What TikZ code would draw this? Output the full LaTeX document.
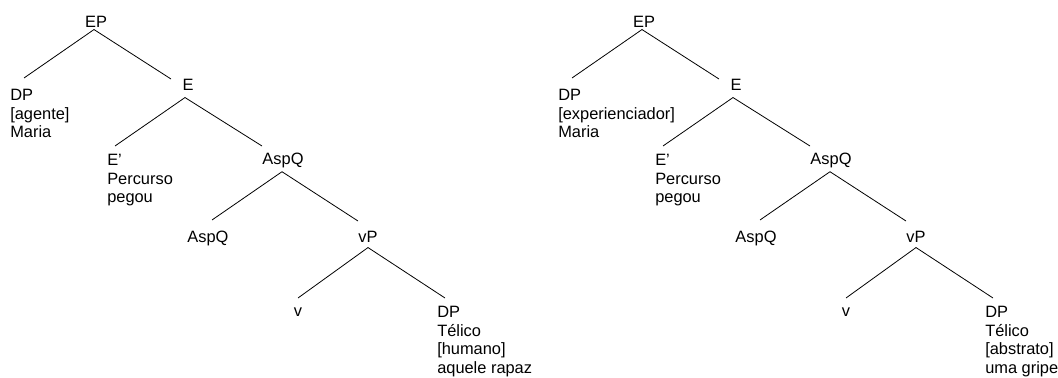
\documentclass[tikz,border=0pt]{standalone}
\usepackage{fontspec}
\setmainfont{Liberation Sans}
\tikzset{
  rotulo/.style={inner sep=0pt,font=\fontsize{12.3}{13.9}\selectfont},
  ramo/.style={line width=0.6pt}
}
\begin{document}
\begin{tikzpicture}[x=0.75pt,y=-0.75pt]
\useasboundingbox (0,0) rectangle (1058,378);
% as duas arvores: a segunda e a primeira deslocada 548px
\foreach \tr/\dx/\papel/\traco/\objeto in {l/0/agente/humano/aquele rapaz,r/548/experienciador/abstrato/uma gripe}{
\begin{scope}[shift={(\dx,0)}]
\node[rotulo,anchor=north] (\tr-EP) at (96,16) {EP};
\node[rotulo,anchor=north west,align=left] (\tr-DP) at (10,89) {DP\\{[\papel]}\\Maria};
\node[rotulo,anchor=north] (\tr-E) at (188,79) {E};
\node[rotulo,anchor=north west,align=left] (\tr-Elin) at (107,154) {E'\\Percurso\\pegou};
\node[rotulo,anchor=north] (\tr-AspQ) at (283,153) {AspQ};
\node[rotulo,anchor=north] (\tr-AspQb) at (208,231) {AspQ};
\node[rotulo,anchor=north] (\tr-vP) at (368,231) {vP};
\node[rotulo,anchor=north] (\tr-v) at (298,308) {v};
\node[rotulo,anchor=north west,align=left] (\tr-DPt) at (437,306) {DP\\T\'elico\\{[\traco]}\\\objeto};
% ramos
\draw[ramo] ([shift={(-2,2)}]\tr-EP.base) -- ([shift={(14,-11)}]\tr-DP.north west);
\draw[ramo] ([shift={(-2,2)}]\tr-EP.base) -- ([shift={(-17,0)}]\tr-E.north);
\draw[ramo] ([shift={(-3,7)}]\tr-E.base) -- ([shift={(8,-8)}]\tr-Elin.north west);
\draw[ramo] ([shift={(-3,7)}]\tr-E.base) -- ([shift={(-21,-7)}]\tr-AspQ.north);
\draw[ramo] ([shift={(-1,7)}]\tr-AspQ.base) -- ([shift={(4,-11)}]\tr-AspQb.north);
\draw[ramo] ([shift={(-1,7)}]\tr-AspQ.base) -- ([shift={(-10,-10)}]\tr-vP.north);
\draw[ramo] ([shift={(0,5)}]\tr-vP.base) -- ([shift={(0,-10)}]\tr-v.north);
\draw[ramo] ([shift={(0,5)}]\tr-vP.base) -- ([shift={(8,-8)}]\tr-DPt.north west);
\end{scope}
}
\end{tikzpicture}
\end{document}
